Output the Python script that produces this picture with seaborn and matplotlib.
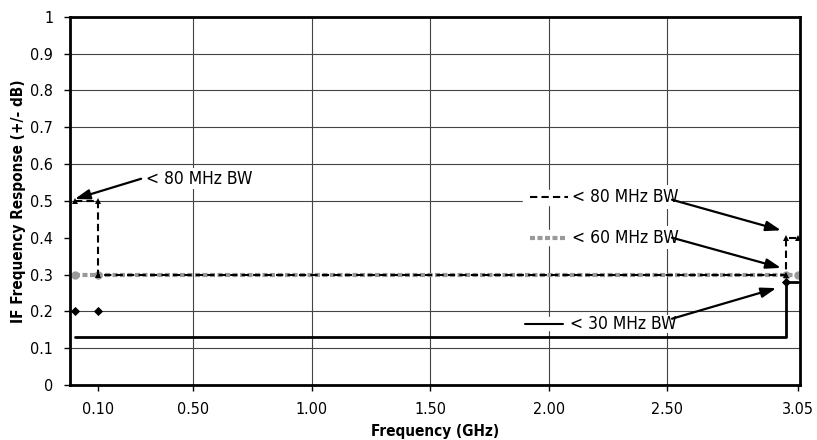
import numpy as np
import matplotlib
matplotlib.use('Agg')
import matplotlib.pyplot as plt
import seaborn as sns

# data (GHz, +/- dB)
bw80_f = [0.0, 0.1, 0.1, 3.0, 3.0, 3.05]
bw80_db = [0.5, 0.5, 0.3, 0.3, 0.4, 0.4]
bw60_f = [0.0, 0.1, 3.0, 3.05]
bw60_db = [0.3, 0.3, 0.3, 0.3]
bw30_f = [0.0, 3.0, 3.0, 3.05]
bw30_db = [0.13, 0.13, 0.28, 0.28]
bw30_pts_f = [0.0, 0.1, 3.0]
bw30_pts_db = [0.2, 0.2, 0.28]

xticks = [0.1, 0.5, 1.0, 1.5, 2.0, 2.5, 3.05]
xticklabels = ['0.10', '0.50', '1.00', '1.50', '2.00', '2.50', '3.05']
yticks = [0, 0.1, 0.2, 0.3, 0.4, 0.5, 0.6, 0.7, 0.8, 0.9, 1]
yticklabels = ['0', '0.1', '0.2', '0.3', '0.4', '0.5', '0.6', '0.7', '0.8', '0.9', '1']
ygrid = [0.1, 0.2, 0.5, 0.6, 0.7, 0.8, 0.9]


def plot():
    sns.set_style('white')
    plt.rcParams['font.family'] = ['DejaVu Sans']
    plt.rcParams['font.stretch'] = 'condensed'
    plt.rcParams['text.color'] = 'black'
    plt.rcParams['axes.labelcolor'] = 'black'
    plt.rcParams['xtick.color'] = 'black'
    plt.rcParams['ytick.color'] = 'black'

    fig = plt.figure(figsize=(8.17, 4.40), dpi=100, facecolor='w')
    ax = fig.add_axes([0.0857, 0.125, 0.8935, 0.837])

    # grid
    for y in ygrid:
        ax.axhline(y, color='#444444', lw=0.8, zorder=0)
    for x in xticks[1:-1]:
        ax.axvline(x, color='#444444', lw=0.8, zorder=0)

    sns.lineplot(x=bw60_f, y=bw60_db, sort=False, estimator=None, ax=ax,
                 color='#999999', lw=3, dashes=False, marker='o', markersize=6,
                 markeredgewidth=0, zorder=2)
    ax.lines[-1].set_dashes((1.2, 0.6))
    sns.lineplot(x=bw80_f, y=bw80_db, sort=False, estimator=None, ax=ax,
                 color='black', lw=1.5, marker='^', markersize=5,
                 markeredgewidth=0, zorder=3)
    ax.lines[-1].set_dashes((3.5, 2))
    sns.lineplot(x=bw30_f, y=bw30_db, sort=False, estimator=None, ax=ax,
                 color='black', lw=2, zorder=3)
    sns.scatterplot(x=bw30_pts_f, y=bw30_pts_db, ax=ax, color='black',
                    marker='D', s=22, linewidth=0, zorder=4)

    ax.set_xlim(-0.02, 3.06)
    ax.set_ylim(0, 1)
    ax.set_xticks(xticks)
    ax.set_xticklabels(xticklabels)
    ax.set_yticks(yticks)
    ax.set_yticklabels(yticklabels)
    ax.tick_params(axis='both', direction='out', length=4, width=1,
                   labelsize=11.5, pad=8, left=True, bottom=True)
    for s in ax.spines.values():
        s.set_linewidth(2)
        s.set_color('black')

    ax.set_xlabel('Frequency (GHz)', fontsize=11, fontweight='bold', labelpad=5)
    ax.set_ylabel('IF Frequency Response (+/- dB)', fontsize=11,
                  fontweight='bold', labelpad=3)

    arrow = dict(arrowstyle='-|>,head_length=0.9,head_width=0.3',
                 color='black', lw=1.6, shrinkA=0, shrinkB=0)
    fs = 12.5

    # left label
    ax.annotate('', xy=(0.0, 0.505), xytext=(0.28, 0.56), arrowprops=arrow,
                zorder=5)
    ax.text(0.30, 0.56, '< 80 MHz BW', fontsize=fs, va='center', ha='left',
            bbox=dict(fc='white', ec='none', pad=1), zorder=5)

    # right labels with key samples
    ax.text(2.10, 0.51, '< 80 MHz BW', fontsize=fs, va='center', ha='left',
            bbox=dict(fc='white', ec='none', pad=2), zorder=5)
    ax.text(2.10, 0.40, '< 60 MHz BW', fontsize=fs, va='center', ha='left',
            bbox=dict(fc='white', ec='none', pad=2), zorder=5)
    ax.text(2.09, 0.166, '< 30 MHz BW', fontsize=fs, va='center', ha='left',
            bbox=dict(fc='white', ec='none', pad=0.3), zorder=5)
    ax.fill_between([1.89, 2.10], 0.49, 0.53, color='white', zorder=4)
    ax.fill_between([1.89, 2.10], 0.38, 0.42, color='white', zorder=4)
    ax.fill_between([1.87, 2.10], 0.15, 0.185, color='white', zorder=4)
    ax.plot([1.92, 2.08], [0.51, 0.51], color='black', lw=1.5,
            dashes=(3.5, 2), zorder=5)
    ax.plot([1.92, 2.07], [0.40, 0.40], color='#999999', lw=3,
            dashes=(1.2, 0.6), zorder=5)
    ax.plot([1.90, 2.06], [0.166, 0.166], color='black', lw=1.5, zorder=5)

    ax.annotate('', xy=(2.98, 0.42), xytext=(2.52, 0.503), arrowprops=arrow,
                zorder=5)
    ax.annotate('', xy=(2.98, 0.318), xytext=(2.52, 0.40), arrowprops=arrow,
                zorder=5)
    ax.annotate('', xy=(2.96, 0.263), xytext=(2.52, 0.18), arrowprops=arrow,
                zorder=5)

    plt.savefig('out.png', dpi=100)


if __name__ == '__main__':
    plot()
